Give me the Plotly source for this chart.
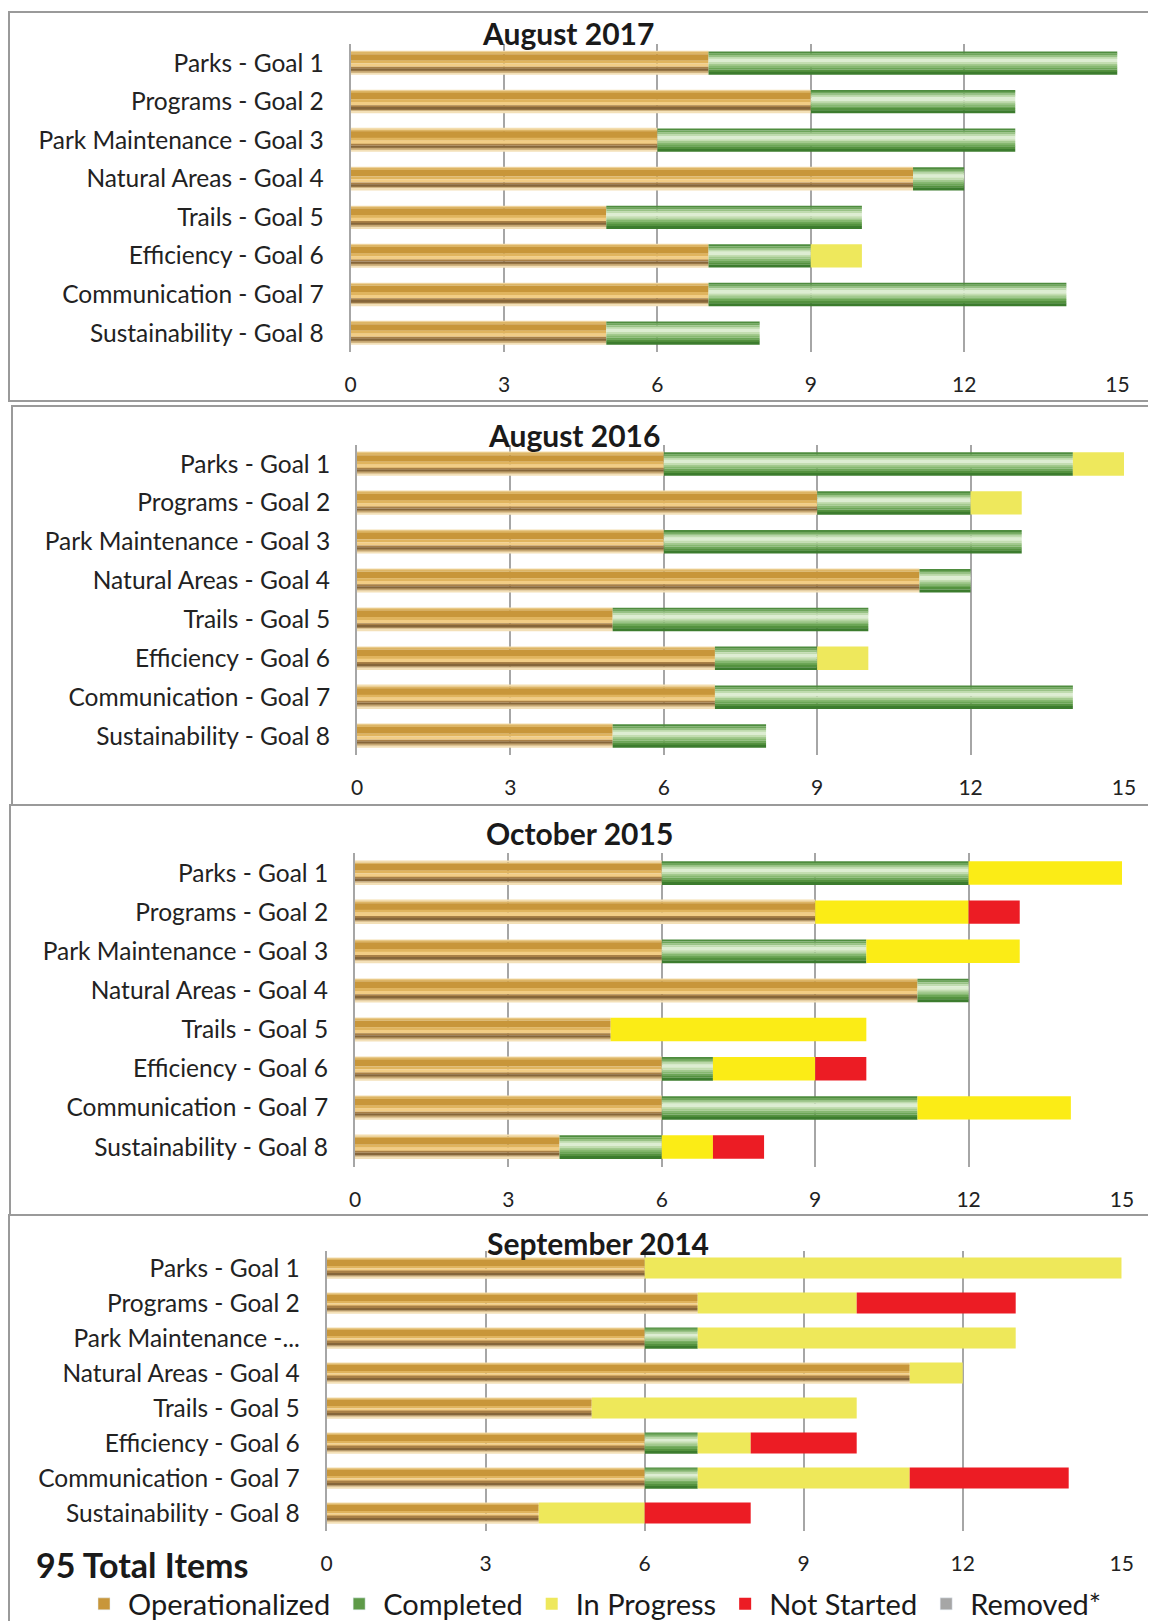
import plotly.graph_objects as go
import numpy as np

W, H = 1156, 1621
OFF = 8  # page body margin of the rendered html

# ---------------- data ----------------
cats_full = ["Parks - Goal 1", "Programs - Goal 2", "Park Maintenance - Goal 3",
             "Natural Areas - Goal 4", "Trails - Goal 5", "Efficiency - Goal 6",
             "Communication - Goal 7", "Sustainability - Goal 8"]
cats_2014 = ["Parks - Goal 1", "Programs - Goal 2", "Park Maintenance -...",
             "Natural Areas - Goal 4", "Trails - Goal 5", "Efficiency - Goal 6",
             "Communication - Goal 7", "Sustainability - Goal 8"]

titles = ["August 2017", "August 2016", "October 2015", "September 2014"]

op_2017 = [7, 9, 6, 11, 5, 7, 7, 5]
comp_2017 = [8, 4, 7, 1, 5, 2, 7, 3]
prog_2017 = [0, 0, 0, 0, 0, 1, 0, 0]
ns_2017 = [0, 0, 0, 0, 0, 0, 0, 0]

op_2016 = [6, 9, 6, 11, 5, 7, 7, 5]
comp_2016 = [8, 3, 7, 1, 5, 2, 7, 3]
prog_2016 = [1, 1, 0, 0, 0, 1, 0, 0]
ns_2016 = [0, 0, 0, 0, 0, 0, 0, 0]

op_2015 = [6, 9, 6, 11, 5, 6, 6, 4]
comp_2015 = [6, 0, 4, 1, 0, 1, 5, 2]
prog_2015 = [3, 3, 3, 0, 5, 2, 3, 1]
ns_2015 = [0, 1, 0, 0, 0, 1, 0, 1]

op_2014 = [6, 7, 6, 11, 5, 6, 6, 4]
comp_2014 = [0, 0, 1, 0, 0, 1, 1, 0]
prog_2014 = [9, 3, 6, 1, 5, 1, 4, 2]
ns_2014 = [0, 3, 0, 0, 0, 2, 3, 2]

x_ticks = [0, 3, 6, 9, 12, 15]
total_label = "95 Total Items"
series_names = ["Operationalized", "Completed", "In Progress", "Not Started", "Removed*"]

# ---------------- styling ----------------
FONT = "Lato"
GRID = "#A6A6A6"
BAR_W = 0.6


def px_x(px):
    return min(max((px - OFF) / W, 0.0), 1.0)


def px_y(py):
    return min(max(1 - (py - OFF) / H, 0.0), 1.0)


op_bands = [(0.00, 0.05, "#F3DDAE"), (0.05, 0.12, "#DDB565"), (0.12, 0.40, "#C8963A"),
            (0.40, 0.52, "#E0B45E"), (0.52, 0.66, "#F2CD85"), (0.66, 0.74, "#A98046"),
            (0.74, 0.86, "#86663A"), (0.86, 0.93, "#C6A772"), (0.93, 1.00, "#F3E0B8")]
comp_bands = [(0.00, 0.08, "#4E8C3E"), (0.08, 0.16, "#6FA65C"), (0.16, 0.24, "#98C285"),
              (0.24, 0.32, "#BFDBAE"), (0.32, 0.46, "#DDEDD2"), (0.46, 0.54, "#C3DDB1"),
              (0.54, 0.62, "#A3CA8E"), (0.62, 0.70, "#86B870"), (0.70, 0.78, "#6CA656"),
              (0.78, 0.88, "#54923F"), (0.88, 1.00, "#3C7C2E")]

panels = [
    dict(cats=cats_full, op=op_2017, comp=comp_2017, prog=prog_2017, ns=ns_2017,
         x0=350.7, x1=1117.5, top=43.7, bot=352.3, yel="#EEE85C", tx=568, ty=33),
    dict(cats=cats_full, op=op_2016, comp=comp_2016, prog=prog_2016, ns=ns_2016,
         x0=357, x1=1124, top=444.6, bot=755.4, yel="#EEE85C", tx=574, ty=435),
    dict(cats=cats_full, op=op_2015, comp=comp_2015, prog=prog_2015, ns=ns_2015,
         x0=355, x1=1122, top=853.4, bot=1166.6, yel="#FBEC16", tx=579, ty=833),
    dict(cats=cats_2014, op=op_2014, comp=comp_2014, prog=prog_2014, ns=ns_2014,
         x0=326.7, x1=1121.7, top=1250.5, bot=1530.5, yel="#EEE85A", tx=598, ty=1243),
]

fig = go.Figure()
layout = {}

for k, p in enumerate(panels):
    sfx = "" if k == 0 else str(k + 1)
    xa, ya = "x" + sfx, "y" + sfx
    op = np.array(p["op"], dtype=float)
    comp = np.array(p["comp"], dtype=float)
    prog = np.array(p["prog"], dtype=float)
    ns = np.array(p["ns"], dtype=float)
    cats = p["cats"]
    first = (k == 0)

    def band_traces(vals, base, bands, name, legend_color):
        for j, (f0, f1, col) in enumerate(bands):
            fig.add_trace(go.Bar(
                x=vals, y=cats, base=base, orientation="h",
                width=(f1 - f0) * BAR_W + 0.004, offset=-BAR_W / 2 + f0 * BAR_W,
                marker=dict(color=col, line=dict(width=0)),
                name=name, legendgroup=name, showlegend=False,
                xaxis=xa, yaxis=ya, hoverinfo="skip"))
        if first:
            fig.add_trace(go.Bar(x=[None], y=[None], orientation="h", name=name,
                                 legendgroup=name, marker=dict(color=legend_color),
                                 xaxis=xa, yaxis=ya, showlegend=True))

    band_traces(op, np.zeros_like(op), op_bands, series_names[0], "#C8963A")
    band_traces(comp, op, comp_bands, series_names[1], "#5E9A48")
    fig.add_trace(go.Bar(x=prog, y=cats, base=op + comp, orientation="h", width=BAR_W,
                         marker=dict(color=p["yel"], line=dict(width=0)),
                         name=series_names[2], legendgroup=series_names[2],
                         showlegend=first, xaxis=xa, yaxis=ya))
    fig.add_trace(go.Bar(x=ns, y=cats, base=op + comp + prog, orientation="h", width=BAR_W,
                         marker=dict(color="#EC1C24", line=dict(width=0)),
                         name=series_names[3], legendgroup=series_names[3],
                         showlegend=first, xaxis=xa, yaxis=ya))
    if first:
        fig.add_trace(go.Bar(x=[None], y=[None], orientation="h", name=series_names[4],
                             marker=dict(color="#A6A6A6"), xaxis=xa, yaxis=ya,
                             showlegend=True))

    layout["xaxis" + sfx] = dict(
        domain=[px_x(p["x0"]), px_x(p["x1"])], anchor=ya, range=[0, 15],
        tickvals=x_ticks, showgrid=True, gridcolor=GRID, gridwidth=2,
        zeroline=False, showline=False, ticks="", ticklabelstandoff=18,
        tickfont=dict(family=FONT, size=21, color="#222222"), fixedrange=True,
        automargin=False)
    layout["yaxis" + sfx] = dict(
        domain=[px_y(p["bot"]), px_y(p["top"])], anchor=xa,
        categoryorder="array", categoryarray=cats, autorange="reversed",
        showgrid=False, zeroline=False, showline=True, linecolor=GRID, linewidth=2,
        ticks="", ticklabelstandoff=20,
        tickfont=dict(family=FONT, size=24.5, color="#222222"), fixedrange=True,
        automargin=False)

annotations = []
for k, p in enumerate(panels):
    annotations.append(dict(text="<b>" + titles[k] + "</b>", x=px_x(p["tx"]), y=px_y(p["ty"]),
                            xref="paper", yref="paper", showarrow=False,
                            xanchor="center", yanchor="middle",
                            font=dict(family=FONT, size=30, color="#1A1A1A")))
annotations.append(dict(text="<b>" + total_label + "</b>", x=px_x(34), y=px_y(1564),
                        xref="paper", yref="paper", showarrow=False,
                        xanchor="left", yanchor="middle",
                        font=dict(family=FONT, size=34, color="#1A1A1A")))

box_col = "#9A9A9A"
boxes = [(9, 12, 1154, 401), (12, 406, 1163, 805), (10, 805, 1163, 1215), (9, 1215, 1163, 1628)]
shapes = []
for (bx0, by0, bx1, by1) in boxes:
    shapes.append(dict(type="rect", xref="paper", yref="paper",
                       x0=px_x(bx0), x1=px_x(bx1), y0=px_y(by0), y1=px_y(by1),
                       line=dict(color=box_col, width=2), fillcolor="rgba(0,0,0,0)",
                       layer="below"))

fig.update_layout(
    width=W, height=H, margin=dict(l=0, r=0, t=0, b=0, pad=0, autoexpand=False),
    paper_bgcolor="white", plot_bgcolor="white",
    barmode="overlay",
    showlegend=True,
    legend=dict(orientation="h", x=px_x(80), y=px_y(1604), xanchor="left", yanchor="middle",
                font=dict(family=FONT, size=29, color="#1A1A1A"),
                traceorder="normal", itemwidth=38, bgcolor="rgba(0,0,0,0)"),
    annotations=annotations, shapes=shapes,
    **layout,
)

fig.write_html("out.html")
